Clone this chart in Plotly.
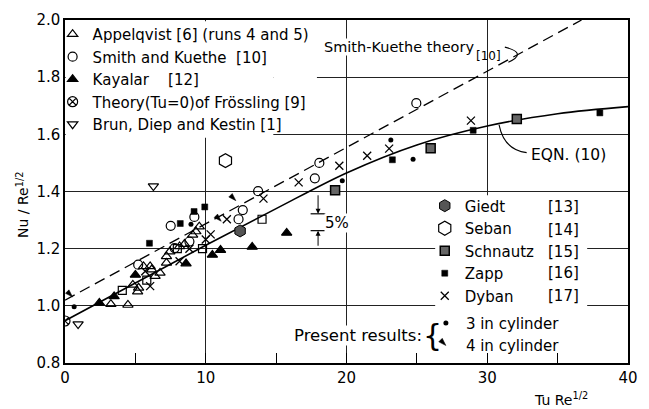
import plotly.graph_objects as go

# ---- data ----
appel_x = [3.26, 4.47, 4.82, 5.16, 5.23, 5.58, 6.05, 6.16, 6.4, 6.75, 7.21, 7.21, 7.45, 8.14, 8.49, 9.07, 9.3, 9.54]
appel_y = [1.006, 1.003, 1.073, 1.05, 1.063, 1.138, 1.138, 1.127, 1.104, 1.115, 1.15, 1.173, 1.19, 1.208, 1.216, 1.248, 1.26, 1.277]

sk_circ_x = [5.2, 7.51, 7.79, 8.84, 9.19, 12.33, 12.63, 13.72, 17.75, 18.07, 24.96]
sk_circ_y = [1.144, 1.28, 1.202, 1.225, 1.311, 1.303, 1.335, 1.401, 1.446, 1.5, 1.709]
sk_sq_x = [4.07, 5.81, 7.98, 9.77, 14.0]
sk_sq_y = [1.054, 1.09, 1.2, 1.2, 1.303]

kay_x = [2.44, 3.49, 5.0, 8.6, 10.47, 11.05, 13.3, 15.75]
kay_y = [1.01, 1.033, 1.108, 1.148, 1.178, 1.195, 1.206, 1.255]

fros_x = [0.0]
fros_y = [0.947]

brun_x = [0.93, 6.28]
brun_y = [0.936, 1.419]

giedt_x = [12.44]
giedt_y = [1.262]

seban_x = [11.4]
seban_y = [1.508]

schn_x = [19.19, 25.98, 32.1]
schn_y = [1.404, 1.551, 1.654]

zapp_x = [6.0, 8.19, 9.17, 9.93, 23.26, 29.0, 38.0]
zapp_y = [1.219, 1.288, 1.33, 1.346, 1.511, 1.614, 1.675]

dyban_x = [5.7, 6.05, 8.14, 8.84, 10.0, 10.35, 11.5, 14.1, 16.6, 19.49, 21.47, 23.03, 28.84]
dyban_y = [1.121, 1.069, 1.156, 1.2, 1.232, 1.25, 1.303, 1.375, 1.432, 1.49, 1.525, 1.55, 1.648]

pres3_x = [0.65, 8.95, 19.7, 23.15, 24.73]
pres3_y = [0.997, 1.285, 1.438, 1.58, 1.513]

pres4_x = [0.54, 11.1, 12.14]
pres4_y = [1.031, 1.296, 1.368]

# theory curves
skt_x = [0.0, 36.7]
skt_y = [1.02, 2.0]
eqn_x = [0, 5, 10, 15, 20, 25, 30, 35, 40]
eqn_y = [0.948, 1.08, 1.212, 1.34, 1.465, 1.563, 1.629, 1.672, 1.697]

FONT = "DejaVu Sans"
K = "black"

fig = go.Figure()

fig.add_trace(go.Scatter(x=skt_x, y=skt_y, mode="lines", showlegend=False,
                         line=dict(color=K, width=1.3, dash="11px,6px")))
fig.add_trace(go.Scatter(x=eqn_x, y=eqn_y, mode="lines", showlegend=False,
                         line=dict(color=K, width=1.6, shape="spline")))

def mk(x, y, name, symbol, size, legend, fill=K, lw=1.2, angle=0, show=True):
    fig.add_trace(go.Scatter(
        x=x, y=y, mode="markers", name=name, legend=legend, showlegend=show,
        marker=dict(symbol=symbol, size=size, color=fill, angle=angle,
                    line=dict(color=K, width=lw))))

mk(appel_x, appel_y, "Appelqvist [6] (runs 4 and 5)", "triangle-up-open", 9, "legend")
mk(sk_circ_x, sk_circ_y, "Smith and Kuethe  [10]", "circle-open", 9, "legend")
mk(kay_x, kay_y, "Kayalar    [12]", "triangle-up", 9, "legend")
mk(fros_x, fros_y, "Theory(Tu=0)of Frössling [9]", "circle-x-open", 10, "legend")
mk(brun_x, brun_y, "Brun, Diep and Kestin [1]", "triangle-down-open", 9, "legend")
mk(sk_sq_x, sk_sq_y, "Smith and Kuethe squares", "square-open", 8, "legend", show=False)

mk(giedt_x, giedt_y, "Giedt", "hexagon", 12, "legend2", fill="#555555", lw=1)
mk(seban_x, seban_y, "Seban", "hexagon-open", 14, "legend2")
mk(schn_x, schn_y, "Schnautz", "square", 9, "legend2", fill="#666666", lw=1.5)
mk(zapp_x, zapp_y, "Zapp", "square", 6, "legend2", lw=0.5)
mk(dyban_x, dyban_y, "Dyban", "x-thin-open", 8, "legend2", lw=1.3)

mk(pres3_x, pres3_y, "3 in cylinder", "circle", 5, "legend3", lw=0)
mk(pres4_x, pres4_y, "4 in cylinder", "arrow", 8, "legend3", lw=0.5, angle=135)

# white masks over grid lines behind the legend texts (between grid and traces)
fig.add_shape(type="rect", x0=0.05, x1=14.8, y0=1.588, y1=1.996, layer="between",
              fillcolor="white", line=dict(width=0))
fig.add_shape(type="rect", x0=14.8, x1=17.9, y0=1.61, y1=1.996, layer="between",
              fillcolor="white", line=dict(width=0))
fig.add_shape(type="rect", x0=26.3, x1=37.1, y0=0.83, y1=1.387, layer="between",
              fillcolor="white", line=dict(width=0))

# 5% marker
fig.add_shape(type="line", x0=17.45, x1=18.5, y0=1.322, y1=1.322, line=dict(color=K, width=1.2))
fig.add_shape(type="line", x0=17.45, x1=18.5, y0=1.263, y1=1.263, line=dict(color=K, width=1.2))
fig.add_annotation(x=17.98, y=1.322, ax=17.98, ay=1.392, axref="x", ayref="y", xref="x", yref="y",
                   text="", showarrow=True, arrowhead=2, arrowsize=1, arrowwidth=1, arrowcolor=K)
fig.add_annotation(x=17.98, y=1.263, ax=17.98, ay=1.205, axref="x", ayref="y", xref="x", yref="y",
                   text="", showarrow=True, arrowhead=2, arrowsize=1, arrowwidth=1, arrowcolor=K)
fig.add_annotation(x=18.4, y=1.29, text="5%", showarrow=False, xanchor="left",
                   font=dict(family=FONT, size=15, color=K), bgcolor="white", borderpad=0)

# curve labels
fig.add_annotation(x=18.3, y=1.905, text="Smith-Kuethe theory", showarrow=False, xanchor="left",
                   font=dict(family=FONT, size=14.5, color=K), bgcolor="white", borderpad=0)
fig.add_annotation(x=30.1, y=1.874, text="[10]", showarrow=False,
                   font=dict(family=FONT, size=12, color=K))
fig.add_shape(type="path", path="M 31.25,1.905 Q 32.9,1.885 31.5,1.852", line=dict(color=K, width=1.1))
fig.add_annotation(x=33.0, y=1.529, text="EQN. (10)", showarrow=False, xanchor="left",
                   font=dict(family=FONT, size=15.5, color=K))
fig.add_shape(type="path", path="M 32.8,1.536 Q 31.2,1.545 30.84,1.633", line=dict(color=K, width=1.1))

# present results label
fig.add_annotation(x=25.4, y=0.896, text="Present results:", showarrow=False, xanchor="right",
                   font=dict(family=FONT, size=16.5, color=K), bgcolor="white", borderpad=0)
fig.add_annotation(x=26.1, y=0.896, text="{", showarrow=False,
                   font=dict(family=FONT, size=30, color=K))

# references of right legend
for r, yy in zip(["[13]", "[14]", "[15]", "[16]", "[17]"], [1.346, 1.266, 1.187, 1.114, 1.035]):
    fig.add_annotation(x=35.45, y=yy, text=r, showarrow=False,
                       font=dict(family=FONT, size=15, color=K))

# axis titles
fig.add_annotation(xref="paper", yref="paper", x=-0.075, y=0.46, xanchor="center", yanchor="middle",
                   text="Nu / Re<sup>1/2</sup>", textangle=-90, showarrow=False,
                   font=dict(family=FONT, size=14, color=K))
fig.add_annotation(xref="paper", yref="paper", x=0.881, y=-0.106, xanchor="center", yanchor="middle",
                   text="Tu Re<sup>1/2</sup>", showarrow=False, font=dict(family=FONT, size=14, color=K))

leg_common = dict(bgcolor="rgba(0,0,0,0)", font=dict(family=FONT, size=15, color=K),
                  xanchor="left", yanchor="top", traceorder="normal", borderwidth=0)

fig.update_layout(
    width=649, height=409,
    margin=dict(l=65, r=11, t=15, b=46),
    paper_bgcolor="white", plot_bgcolor="white",
    font=dict(family=FONT, size=15, color=K),
    legend=dict(x=-0.022, y=1.006, **leg_common),
    legend2=dict(x=0.639, y=0.506, **leg_common),
    legend3=dict(x=0.641, y=0.164, **leg_common),
    xaxis=dict(range=[0, 40], tickmode="linear", tick0=0, dtick=10,
               showgrid=True, gridcolor="#222", gridwidth=1, zeroline=False,
               showline=True, mirror=True, linecolor=K, linewidth=1.5,
               ticks="inside", ticklen=10, tickcolor=K, tickwidth=1.2,
               minor=dict(ticks="inside", ticklen=10, tickcolor=K, tickwidth=1.2, dtick=5, showgrid=False),
               tickfont=dict(family=FONT, size=15, color=K)),
    yaxis=dict(range=[0.8, 2.0], tickmode="linear", tick0=0.8, dtick=0.2, tickformat=".1f",
               showgrid=True, gridcolor="#222", gridwidth=1, zeroline=False,
               showline=True, mirror=True, linecolor=K, linewidth=1.5, ticks="",
               tickfont=dict(family=FONT, size=15, color=K)),
)

fig.write_html("out.html")
